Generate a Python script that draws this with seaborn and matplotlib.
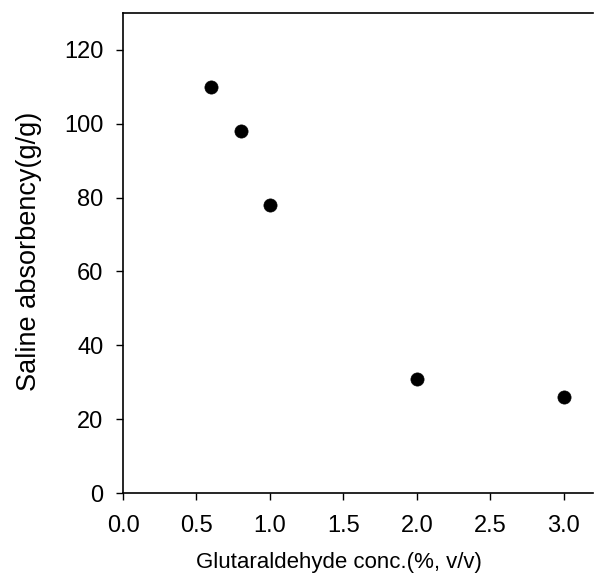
import matplotlib
matplotlib.use("Agg")
import matplotlib.pyplot as plt
import seaborn as sns
import pandas as pd

conc = [0.6, 0.8, 1.0, 2.0, 3.0]
absorbency = [110, 98, 78, 31, 26]
xticks = [0.0, 0.5, 1.0, 1.5, 2.0, 2.5, 3.0]
yticks = [0, 20, 40, 60, 80, 100, 120]

df = pd.DataFrame({"conc": conc, "absorbency": absorbency})

sns.set_style("ticks")
plt.rcParams['font.family'] = ['Liberation Sans', 'DejaVu Sans']

fig = plt.figure(figsize=(5.94, 5.79), dpi=100)
ax = fig.add_axes([123/594, 1 - 493/579, 470/594, (493 - 13)/579])
sns.scatterplot(data=df, x="conc", y="absorbency", ax=ax, color="black",
                s=90, edgecolor="black", linewidth=0.5, legend=False)
ax.set_xlim(0, 3.2)
ax.set_ylim(0, 130)
ax.set_xticks(xticks)
ax.set_xticklabels([f"{t:.1f}" for t in xticks])
ax.set_yticks(yticks)
ax.set_yticklabels([str(t) for t in yticks])
ax.tick_params(axis='both', labelsize=17, direction='out', length=5, width=1, color='black', labelcolor='black')
ax.tick_params(axis='x', pad=11)
ax.tick_params(axis='y', pad=9)
ax.set_xlabel("Glutaraldehyde conc.(%, v/v)", fontsize=16, color='black')
ax.set_ylabel("Saline absorbency(g/g)", fontsize=19.5, color='black')
ax.xaxis.set_label_coords((339 - 123) / 470, (493 - 552) / 480)
ax.yaxis.set_label_coords((42 - 123) / 470, (493 - 251) / 480)
for s in ['left', 'bottom', 'top']:
    ax.spines[s].set_visible(True)
    ax.spines[s].set_color('black')
    ax.spines[s].set_linewidth(1.2)
ax.spines['right'].set_visible(False)
fig.savefig("out.png", dpi=100)
